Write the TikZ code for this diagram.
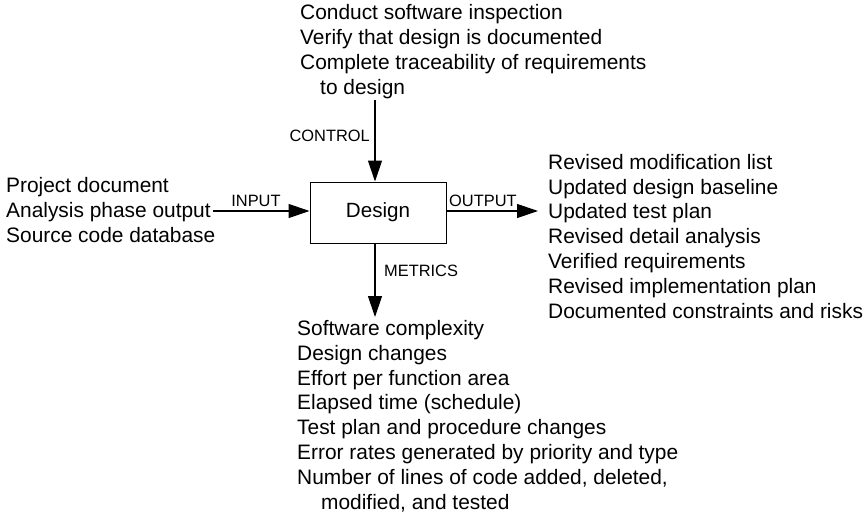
\documentclass[tikz,border=0pt]{standalone}
\usepackage{fontspec}
\setmainfont{Liberation Sans}
\usetikzlibrary{arrows.meta}
\tikzset{
  list/.style={align=left, inner sep=0pt, anchor=base west,
    font=\fontsize{20.9}{24.8}\selectfont},
  tag/.style={inner sep=0pt, font=\fontsize{16.4}{19}\selectfont},
  flow/.style={-{Triangle[length=21pt,width=14pt]}, line width=1.2pt},
}
\begin{document}
\begin{tikzpicture}[x=1pt,y=-1pt]
  \useasboundingbox (0,0) rectangle (867,514);
  \node[draw, line width=1pt, minimum width=136pt, minimum height=61pt,
    inner sep=0pt, font=\fontsize{20.6}{24}\selectfont] (design) at (378,212.5) {Design};
  \coordinate (ctrl) at (375,100);
  \coordinate (metr) at (375,317);
  \coordinate (inp) at (213,211);
  \coordinate (outp) at (538,211);
  \begin{scope}[flow]
    \draw (ctrl) to (ctrl |- design.north);
    \draw (inp) to (inp -| design.west);
    \draw (outp -| design.east) to (outp);
    \draw (metr |- design.south) to (metr);
  \end{scope}
  \node[tag, anchor=base east] (control) at (370,141) {CONTROL};
  \node[tag, anchor=base] (input) at (256,206) {INPUT};
  \node[tag, anchor=base west] (output) at (449,206) {OUTPUT};
  \node[tag, anchor=base west] (metrics) at (384,276) {METRICS};
  % multi-line lists are placed by the baseline of their last line
  \node[list] (controls) at (300,94) {Conduct software inspection\\
    Verify that design is documented\\
    Complete traceability of requirements\\
    \hspace*{20pt}to design};
  \node[list] (inputs) at (6,242) {Project document\\
    Analysis phase output\\
    Source code database};
  \node[list] (outputs) at (548,318) {Revised modification list\\
    Updated design baseline\\
    Updated test plan\\
    Revised detail analysis\\
    Verified requirements\\
    Revised implementation plan\\
    Documented constraints and risks};
  \node[list] (measures) at (297,509) {Software complexity\\
    Design changes\\
    Effort per function area\\
    Elapsed time (schedule)\\
    Test plan and procedure changes\\
    Error rates generated by priority and type\\
    Number of lines of code added, deleted,\\
    \hspace*{24pt}modified, and tested};
\end{tikzpicture}
\end{document}
